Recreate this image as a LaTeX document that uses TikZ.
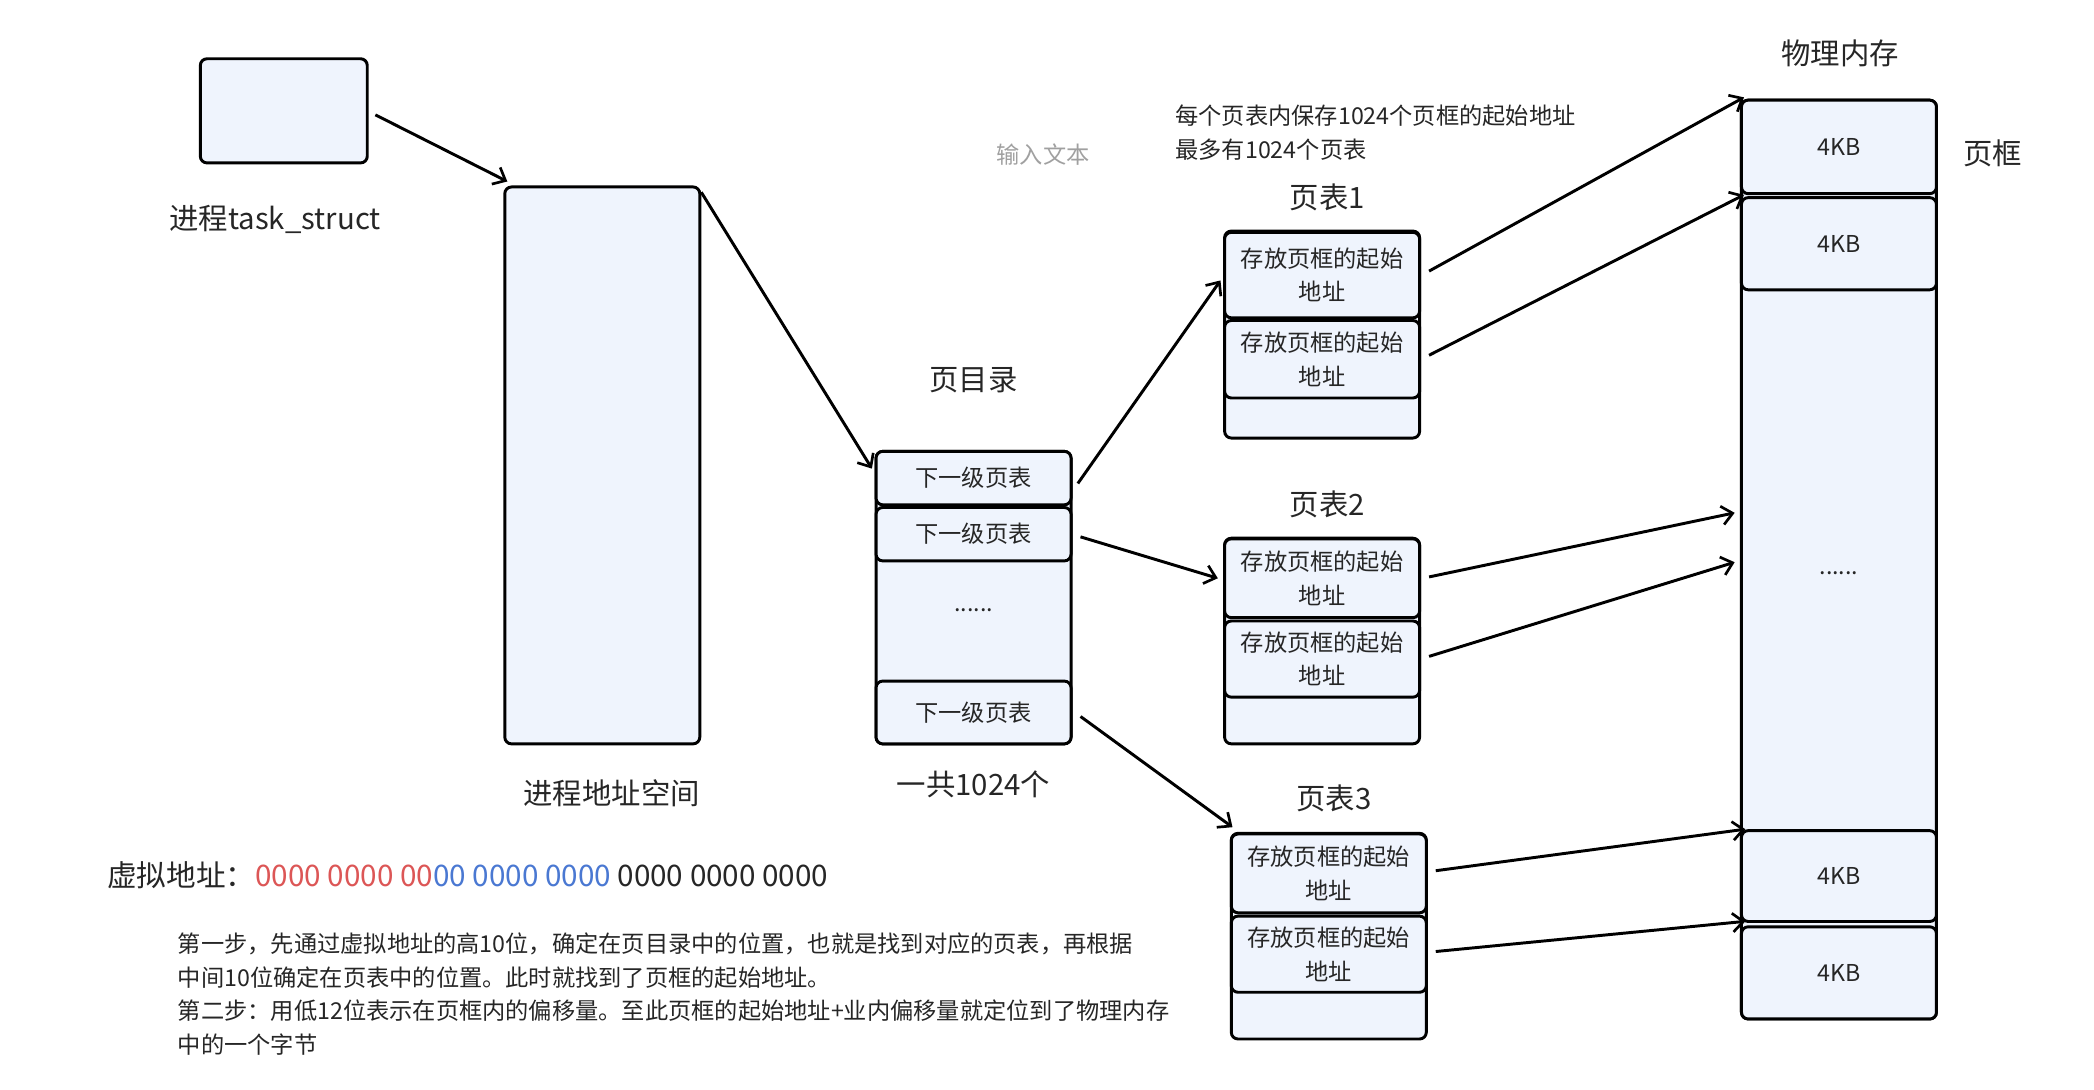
\documentclass[tikz,border=0pt]{standalone}
\usepackage{fontspec}
\setmainfont{Noto Sans CJK SC}
\usetikzlibrary{arrows.meta,calc}
\definecolor{boxfill}{HTML}{EFF4FD}
\definecolor{txt}{HTML}{262626}
\definecolor{addrred}{HTML}{DC5656}
\definecolor{addrblue}{HTML}{4A78D2}
\definecolor{hintgray}{HTML}{A0A0A0}
\begin{document}
\begin{tikzpicture}[x=1pt,y=-1pt,
  box/.style={draw=black, fill=boxfill, rounded corners=5pt, line width=2.2pt, inner sep=0pt, text=txt},
  cellbox/.style={box, minimum width=146pt, font=\fontsize{17.4}{25}\selectfont, align=center},
  biglabel/.style={text=txt, font=\fontsize{22}{26}\selectfont, inner sep=0pt},
  smalltext/.style={text=txt, font=\fontsize{17.4}{25}\selectfont, inner sep=0pt},
  arr/.style={line width=2.2pt, draw=black, -{Straight Barb[length=8pt,width=14pt,line width=2pt]}}
]
\useasboundingbox (0,0) rectangle (1568,816);

% task struct
\node[box, minimum width=125pt, minimum height=78pt] (task) at (212.5,83) {};
\node[biglabel] (tasklbl) at (206,164) {进程task\_struct};

% address space
\node[box, minimum width=146pt, minimum height=417pt] (as) at (451,348.5) {};
\node[biglabel] (aslbl) at (458,594) {进程地址空间};

% page directory
\node[biglabel] (pdlbl) at (729,285) {页目录};
\node[box, minimum width=146pt, minimum height=219pt] (pd) at (729,447.5) {};
\node[cellbox, minimum height=40pt] (pd1) at (729,358) {下一级页表};
\node[cellbox, minimum height=40pt] (pd2) at (729,400) {下一级页表};
\node[smalltext] (pddots) at (729,457) {......};
\node[cellbox, minimum height=47pt] (pd4) at (729,533.5) {下一级页表};
\node[biglabel] (pdcnt) at (729,587) {一共1024个};

% note
\node[smalltext, anchor=west] (note1) at (880,87) {每个页表内保存1024个页框的起始地址};
\node[smalltext, anchor=west] (note2) at (880,112) {最多有1024个页表};
\node[smalltext, text=hintgray] (hint) at (781,116) {输入文本};

% page table 1
\node[biglabel] (pt1lbl) at (994,148) {页表1};
\node[box, minimum width=146pt, minimum height=155pt] (pt1) at (990,250.5) {};
\node[cellbox, minimum height=64pt] (pt11) at (990,206) {存放页框的起始\\地址};
\node[cellbox, minimum height=58pt] (pt12) at (990,269) {存放页框的起始\\地址};

% page table 2
\node[biglabel] (pt2lbl) at (994,378) {页表2};
\node[box, minimum width=146pt, minimum height=154pt] (pt2) at (990,480) {};
\node[cellbox, minimum height=59pt] (pt21) at (990,433) {存放页框的起始\\地址};
\node[cellbox, minimum height=57pt] (pt22) at (990,493.5) {存放页框的起始\\地址};

% page table 3
\node[biglabel] (pt3lbl) at (999,598) {页表3};
\node[box, minimum width=146pt, minimum height=154pt] (pt3) at (995,701) {};
\node[cellbox, minimum height=59pt] (pt31) at (995,654) {存放页框的起始\\地址};
\node[cellbox, minimum height=57pt] (pt32) at (995,714.5) {存放页框的起始\\地址};

% physical memory
\node[biglabel] (memlbl) at (1378,40) {物理内存};
\node[box, minimum width=146pt, minimum height=688pt] (mem) at (1377,419) {};
\node[cellbox, minimum height=70pt] (m1) at (1377,110) {4KB};
\node[cellbox, minimum height=69pt] (m2) at (1377,182.5) {4KB};
\node[smalltext] (memdots) at (1377,429) {......};
\node[cellbox, minimum height=68pt] (m3) at (1377,656) {4KB};
\node[cellbox, minimum height=69pt] (m4) at (1377,728.5) {4KB};
\node[biglabel] (framelbl) at (1492,115) {页框};

% connectors
\draw[arr] ([xshift=5pt,yshift=-3pt]task.east) -- ([xshift=3pt,yshift=3pt]as.north west);
\draw[arr] ([yshift=-5pt]as.north east) -- ([xshift=-2pt,yshift=-14pt]pd1.north west);
\draw[arr] ([xshift=4pt,yshift=-4pt]pd1.east) -- ([xshift=-2pt,yshift=-4pt]pt11.west);
\draw[arr] ([xshift=6pt,yshift=-2pt]pd2.east) -- ([xshift=-4pt]pt21.west);
\draw[arr] ([xshift=6pt,yshift=-3pt]pd4.east) -- ([xshift=2pt,yshift=4pt]pt31.north west);

\draw[arr] ([xshift=6pt,yshift=3pt]pt11.east) -- ([xshift=3pt,yshift=1pt]m1.north west);
\draw[arr] ([xshift=6pt,yshift=3pt]pt12.east) -- ([xshift=3pt,yshift=1pt]m2.north west);
\draw[arr] ([xshift=6pt,yshift=1pt]pt21.east) -- ([xshift=-4pt,yshift=35pt]mem.west);
\draw[arr] ([xshift=6pt,yshift=2pt]pt22.east) -- ([xshift=-4pt,yshift=-2pt]mem.west);
\draw[arr] ([xshift=6pt,yshift=2pt]pt31.east) -- ([xshift=4pt,yshift=0pt]m3.north west);
\draw[arr] ([xshift=6pt,yshift=2pt]pt32.east) -- ([xshift=4pt,yshift=3pt]m4.north west);

% virtual address
\node[anchor=west, inner sep=0pt, text=txt, font=\fontsize{22.2}{26}\selectfont] (va) at (80,655)
  {虚拟地址：\textcolor{addrred}{0000 0000 00}\textcolor{addrblue}{00 0000 0000} 0000 0000 0000};

% explanation
\node[smalltext, anchor=west] (ex1) at (133,707) {第一步，先通过虚拟地址的高10位，确定在页目录中的位置，也就是找到对应的页表，再根据};
\node[smalltext, anchor=west] (ex2) at (133,732) {中间10位确定在页表中的位置。此时就找到了页框的起始地址。};
\node[smalltext, anchor=west] (ex3) at (133,757) {第二步：用低12位表示在页框内的偏移量。至此页框的起始地址+业内偏移量就定位到了物理内存};
\node[smalltext, anchor=west] (ex4) at (133,782) {中的一个字节};
\end{tikzpicture}
\end{document}
